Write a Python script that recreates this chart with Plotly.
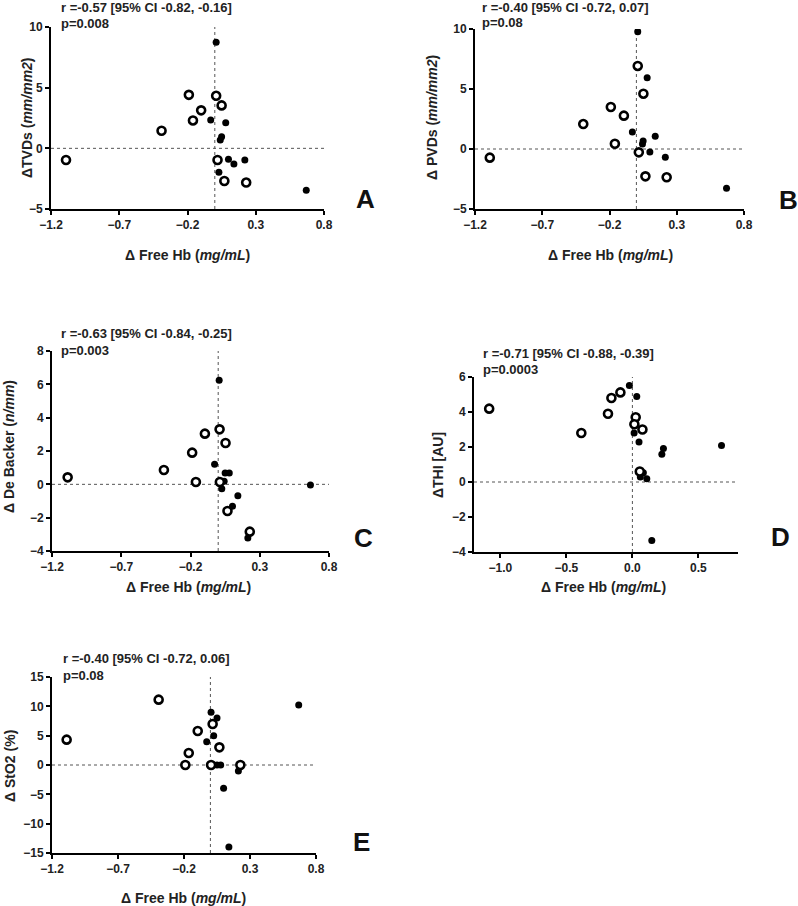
import plotly.graph_objects as go

W, H = 798, 906

# ---------------- data ----------------
A_filled_x = [0.01, -0.03, 0.08, 0.05, 0.04, 0.10, 0.14, 0.22, 0.03, 0.67]
A_filled_y = [8.75, 2.33, 2.11, 0.96, 0.69, -0.90, -1.29, -0.96, -1.97, -3.45]
A_open_x = [-1.09, -0.39, -0.19, -0.16, -0.10, 0.01, 0.05, 0.02, 0.07, 0.23]
A_open_y = [-0.96, 1.45, 4.41, 2.30, 3.13, 4.33, 3.54, -0.96, -2.69, -2.82]

B_filled_x = [0.01, 0.08, -0.03, 0.14, 0.05, 0.045, 0.015, 0.10, 0.215, 0.67]
B_filled_y = [9.78, 5.94, 1.42, 1.06, 0.67, 0.42, -0.28, -0.25, -0.69, -3.28]
B_open_x = [-1.09, -0.395, -0.19, -0.093, -0.16, 0.01, 0.052, 0.018, 0.067, 0.225]
B_open_y = [-0.72, 2.08, 3.50, 2.78, 0.44, 6.92, 4.61, -0.28, -2.28, -2.36]

C_filled_x = [0.007, -0.026, 0.05, 0.08, 0.043, 0.026, 0.142, 0.103, 0.214, 0.666]
C_filled_y = [6.24, 1.20, 0.68, 0.68, 0.18, -0.26, -0.68, -1.32, -3.22, -0.04]
C_open_x = [-1.087, -0.392, -0.188, -0.161, -0.096, 0.01, 0.053, 0.012, 0.067, 0.228]
C_open_y = [0.42, 0.86, 1.90, 0.14, 3.04, 3.30, 2.48, 0.14, -1.60, -2.84]

D_filled_x = [-0.023, 0.033, 0.013, 0.05, 0.083, 0.06, 0.109, 0.235, 0.223, 0.675, 0.147]
D_filled_y = [5.52, 4.89, 2.80, 2.29, 0.53, 0.28, 0.18, 1.91, 1.59, 2.08, -3.34]
D_open_x = [-1.085, -0.387, -0.185, -0.159, -0.091, 0.025, 0.015, 0.076, 0.056]
D_open_y = [4.19, 2.80, 3.90, 4.80, 5.12, 3.70, 3.30, 3.00, 0.60]

E_filled_x = [0.005, 0.05, 0.025, -0.028, 0.05, 0.078, 0.212, 0.10, 0.14, 0.669]
E_filled_y = [8.98, 8.01, 5.00, 3.98, 0.0, 0.0, -1.02, -3.98, -13.98, 10.23]
E_open_x = [-1.089, -0.392, -0.096, -0.164, -0.19, 0.017, 0.068, 0.005, 0.227]
E_open_y = [4.32, 11.14, 5.80, 2.05, 0.0, 6.99, 3.01, 0.0, 0.0]

x_title = "<b>Δ Free Hb (<i>mg/mL</i>)</b>"
y_titles = ["<b>ΔTVDs (<i>mm/mm2</i>)</b>", "<b>Δ PVDs (<i>mm/mm2</i>)</b>",
            "<b>Δ De Backer (<i>n/mm</i>)</b>", "<b>ΔTHI [AU]</b>", "<b>Δ StO2 (%)</b>"]
stats_r = ["r =-0.57 [95% CI -0.82, -0.16]", "r =-0.40 [95% CI -0.72, 0.07]",
           "r =-0.63 [95% CI -0.84, -0.25]", "r =-0.71 [95% CI -0.88, -0.39]",
           "r =-0.40 [95% CI -0.72, 0.06]"]
stats_p = ["p=0.008", "p=0.08", "p=0.003", "p=0.0003", "p=0.08"]
letters = ["A", "B", "C", "D", "E"]

panels = [
    (A_filled_x, A_filled_y, A_open_x, A_open_y),
    (B_filled_x, B_filled_y, B_open_x, B_open_y),
    (C_filled_x, C_filled_y, C_open_x, C_open_y),
    (D_filled_x, D_filled_y, D_open_x, D_open_y),
    (E_filled_x, E_filled_y, E_open_x, E_open_y),
]
y_ranges = [(-5, 10, 5), (-5, 10, 5), (-4, 8, 2), (-4, 6, 2), (-15, 15, 5)]
x_ticks = [(-1.2, 0.5, ".1f"), (-1.2, 0.5, ".1f"), (-1.2, 0.5, ".1f"), (-1.0, 0.5, ".1f"), (-1.2, 0.5, ".1f")]

# ---------------- layout geometry (screen pixels) ----------------
plot_px = [  # x0, x1, ytop, ybottom
    (51, 324, 27, 209),
    (475, 744, 29, 209),
    (52, 329, 351, 551),
    (474, 738, 377, 552),
    (52, 316, 677, 853),
]
ytitle_pos = [(27, 118), (432, 118), (9, 447), (438, 465), (10, 766)]
xtitle_pos = [(187, 255), (610, 255), (188, 587), (603, 587), (183, 898)]
stat_pos = [(59, 7, 23), (480, 7, 22), (59, 333, 350), (481, 353, 369), (61, 658, 675)]
letter_pos = [(365, 199), (788, 200), (363, 538), (780, 537), (361, 842)]

FONT = "Liberation Sans, Arial, sans-serif"
TXT = "#222222"

def px(x):
    return x / W

def py(y):
    return 1 - y / H

fig = go.Figure()
annotations = []
shapes = []
layout_axes = {}

for i, (fx, fy, ox, oy) in enumerate(panels):
    n = "" if i == 0 else str(i + 1)
    xa, ya = "x" + n, "y" + n
    fig.add_trace(go.Scatter(x=fx, y=fy, mode="markers", xaxis=xa, yaxis=ya,
                             marker=dict(symbol="circle", size=7, color="black"),
                             showlegend=False, hoverinfo="x+y"))
    fig.add_trace(go.Scatter(x=ox, y=oy, mode="markers", xaxis=xa, yaxis=ya,
                             marker=dict(symbol="circle", size=8, color="white",
                                         line=dict(color="black", width=2.6)),
                             showlegend=False, hoverinfo="x+y"))
    x0, x1, yt, yb = plot_px[i]
    ymin, ymax, ydt = y_ranges[i]
    t0, dt, fmt = x_ticks[i]
    axis_common = dict(showline=True, linecolor="black", linewidth=2, ticks="outside",
                       ticklen=4, tickwidth=2, tickcolor="black", showgrid=False,
                       zeroline=False, mirror=False, automargin=False,
                       tickfont=dict(family=FONT, size=12, color=TXT, weight="bold"))
    layout_axes["xaxis" + n] = dict(axis_common, domain=[px(x0), px(x1)], range=[-1.2, 0.8],
                                    anchor=ya, tickmode="linear", tick0=t0, dtick=dt,
                                    tickformat=fmt)
    layout_axes["yaxis" + n] = dict(axis_common, domain=[py(yb), py(yt)], range=[ymin, ymax],
                                    anchor=xa, tickmode="linear", tick0=ymin, dtick=ydt)
    # dotted reference lines at zero
    shapes.append(dict(type="line", xref=xa + " domain", yref=ya, x0=0, x1=1, y0=0, y1=0,
                       line=dict(color="#555555", width=1, dash="dot"), layer="below"))
    shapes.append(dict(type="line", xref=xa, yref=ya + " domain", x0=0, x1=0, y0=0, y1=1,
                       line=dict(color="#555555", width=1, dash="dot"), layer="below"))
    # titles
    tx, ty = ytitle_pos[i]
    annotations.append(dict(text=y_titles[i], x=px(tx), y=py(ty), xref="paper", yref="paper",
                            textangle=-90, showarrow=False, xanchor="center", yanchor="middle",
                            font=dict(family=FONT, size=14, color=TXT)))
    tx, ty = xtitle_pos[i]
    annotations.append(dict(text=x_title, x=px(tx), y=py(ty), xref="paper", yref="paper",
                            showarrow=False, xanchor="center", yanchor="middle",
                            font=dict(family=FONT, size=14, color=TXT)))
    sx, sy1, sy2 = stat_pos[i]
    annotations.append(dict(text="<b>" + stats_r[i] + "</b>", x=px(sx), y=py(sy1), xref="paper",
                            yref="paper", showarrow=False, xanchor="left", yanchor="middle",
                            font=dict(family=FONT, size=13, color=TXT)))
    annotations.append(dict(text="<b>" + stats_p[i] + "</b>", x=px(sx), y=py(sy2), xref="paper",
                            yref="paper", showarrow=False, xanchor="left", yanchor="middle",
                            font=dict(family=FONT, size=13, color=TXT)))
    lx, ly = letter_pos[i]
    annotations.append(dict(text="<b>" + letters[i] + "</b>", x=px(lx), y=py(ly), xref="paper",
                            yref="paper", showarrow=False, xanchor="center", yanchor="middle",
                            font=dict(family=FONT, size=26, color="#111111")))

fig.update_layout(width=W, height=H, margin=dict(l=0, r=0, t=0, b=0, autoexpand=False),
                  paper_bgcolor="white", plot_bgcolor="white",
                  annotations=annotations, shapes=shapes, **layout_axes)

fig.write_html("out.html", config={"displayModeBar": False},
               post_script="document.body.style.margin='0';document.body.style.overflow='hidden';")
